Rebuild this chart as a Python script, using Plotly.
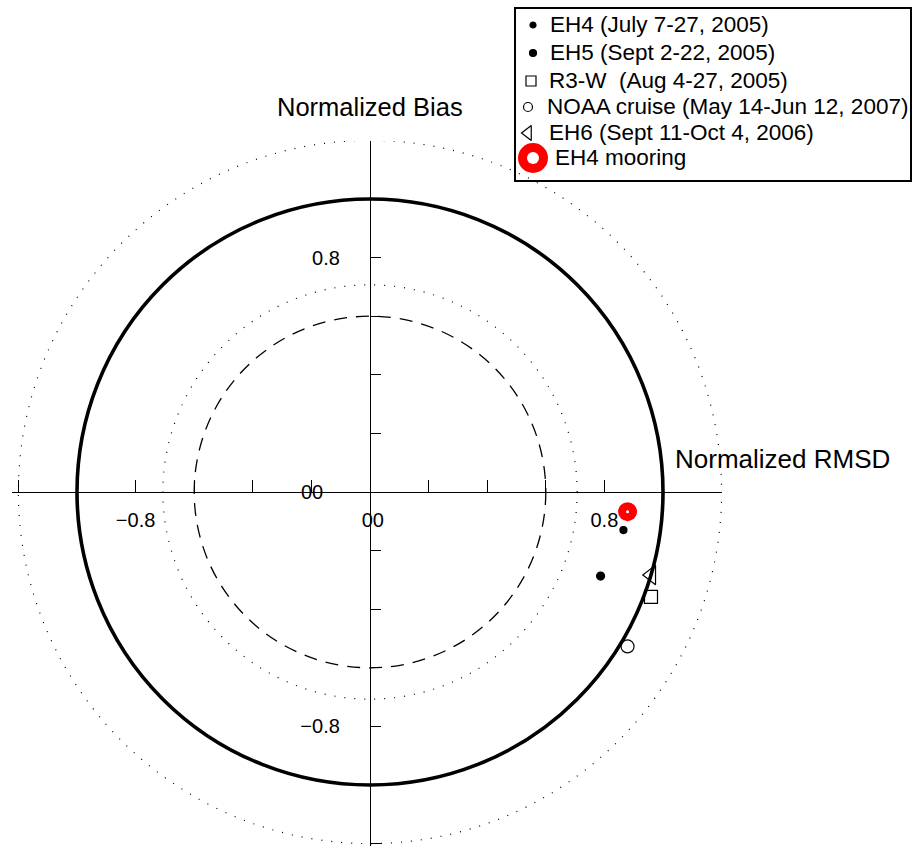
import plotly.graph_objects as go

# ---------------- data ----------------
series_names = [
    "EH4 (July 7-27, 2005)",
    "EH5 (Sept 2-22, 2005)",
    "R3-W  (Aug 4-27, 2005)",
    "NOAA cruise (May 14-Jun 12, 2007)",
    "EH6 (Sept 11-Oct 4, 2006)",
    "EH4 mooring",
]
norm_rmsd = [0.865, 0.787, 0.959, 0.879, 0.960, 0.879]
norm_bias = [-0.130, -0.287, -0.358, -0.527, -0.283, -0.067]

solid_radii = [1.0]
dashed_radii = [0.6]
dotted_radii = [0.707, 1.2]

tick_values = [-1.2, -1.0, -0.8, -0.6, -0.4, -0.2, 0.0, 0.2, 0.4, 0.6, 0.8, 1.0, 1.2]
x_tick_text = ["", "", "\u22120.8", "", "", "", "\u00a000", "", "", "", "0.8", "", ""]
y_tick_text = ["", "", "\u22120.8", "", "", "", "00\u00a0\u00a0\u00a0", "", "", "", "0.8", "", ""]

x_title = "Normalized RMSD"
y_title = "Normalized Bias"

# ---------------- styles ----------------
W, H = 914, 846
CX, CY, S = 370, 492, 293.0          # pixel centre and pixels per unit
FONT = "Liberation Sans"

symbols = ["circle", "circle", "square-open", "circle-open", "triangle-left-open"]
plot_sizes = [7, 8, 13, 13, 17]
legend_sizes = [6, 7, 10, 9, 13]

# legend box (pixel geometry of the box)
LB_X0, LB_X1, LB_Y0, LB_Y1 = 516, 910, 9, 180
legend_marker_x = [17, 17, 15, 12, 12, 17]
legend_text_x = [32, 32, 31, 29, 31, 37]
legend_row_y = [16, 44, 72, 98, 124, 149]

fig = go.Figure()

# reference circles
for r in dotted_radii:
    fig.add_shape(type="circle", xref="x", yref="y", x0=-r, y0=-r, x1=r, y1=r,
                  line=dict(color="black", width=1.2, dash="1px,9px"), layer="below")
for r in dashed_radii:
    fig.add_shape(type="circle", xref="x", yref="y", x0=-r, y0=-r, x1=r, y1=r,
                  line=dict(color="black", width=1.3, dash="13px,9px"), layer="below")
for r in solid_radii:
    fig.add_shape(type="circle", xref="x", yref="y", x0=-r, y0=-r, x1=r, y1=r,
                  line=dict(color="black", width=3.6), layer="below")

# data points (black symbols)
for i in range(5):
    fig.add_trace(go.Scatter(
        x=[norm_rmsd[i]], y=[norm_bias[i]], mode="markers", name=series_names[i],
        showlegend=False, cliponaxis=False,
        marker=dict(symbol=symbols[i], size=plot_sizes[i], color="black",
                    line=dict(color="black", width=1.2)),
        xaxis="x", yaxis="y"))

# mooring point: red disc with white centre
fig.add_trace(go.Scatter(x=[norm_rmsd[5]], y=[norm_bias[5]], mode="markers",
                         name=series_names[5], showlegend=False, cliponaxis=False,
                         marker=dict(symbol="circle", size=19, color="#ff0000", line=dict(width=0))))
fig.add_trace(go.Scatter(x=[norm_rmsd[5]], y=[norm_bias[5]], mode="markers",
                         showlegend=False, cliponaxis=False, hoverinfo="skip",
                         marker=dict(symbol="circle", size=3, color="white", line=dict(width=0))))

# ---------------- custom legend ----------------
for i in range(5):
    fig.add_trace(go.Scatter(
        x=[legend_marker_x[i]], y=[legend_row_y[i]], mode="markers", showlegend=False,
        cliponaxis=False, hoverinfo="skip", xaxis="x2", yaxis="y2",
        marker=dict(symbol=symbols[i], size=legend_sizes[i], color="black",
                    line=dict(color="black", width=1.2))))
fig.add_trace(go.Scatter(x=[legend_marker_x[5]], y=[legend_row_y[5]], mode="markers",
                         showlegend=False, cliponaxis=False, hoverinfo="skip",
                         xaxis="x2", yaxis="y2",
                         marker=dict(symbol="circle", size=30, color="#ff0000", line=dict(width=0))))
fig.add_trace(go.Scatter(x=[legend_marker_x[5]], y=[legend_row_y[5]], mode="markers",
                         showlegend=False, cliponaxis=False, hoverinfo="skip",
                         xaxis="x2", yaxis="y2",
                         marker=dict(symbol="circle", size=12, color="white", line=dict(width=0))))
for i, name in enumerate(series_names):
    fig.add_annotation(x=legend_text_x[i], y=legend_row_y[i], xref="x2", yref="y2",
                       text=name, showarrow=False, xanchor="left", yanchor="middle",
                       font=dict(family=FONT, size=22.5, color="black"))

# axis titles
fig.add_annotation(x=CX / W, y=(H - 107) / H, xref="paper", yref="paper", text=y_title,
                   showarrow=False, xanchor="center", yanchor="middle",
                   font=dict(family=FONT, size=25.5, color="black"))
fig.add_annotation(x=673 / W, y=(H - 459) / H, xref="paper", yref="paper", text=x_title,
                   showarrow=False, xanchor="left", yanchor="middle",
                   font=dict(family=FONT, size=26, color="black"))

axis_common = dict(showgrid=False, zeroline=False, showline=True, linecolor="black",
                   linewidth=1.3, ticks="inside", tickcolor="black", tickwidth=1.3,
                   tickvals=tick_values, tickfont=dict(family=FONT, size=20, color="black"),
                   fixedrange=True)

fig.update_layout(
    width=W, height=H,
    margin=dict(l=0, r=0, t=0, b=0),
    paper_bgcolor="white", plot_bgcolor="rgba(0,0,0,0)",
    showlegend=False,
    xaxis=dict(domain=[12 / W, 722 / W], range=[(12 - CX) / S, (722 - CX) / S],
               anchor="free", position=(H - CY) / H, ticklen=12,
               ticktext=x_tick_text, ticklabelstandoff=10, **axis_common),
    yaxis=dict(domain=[0, (H - 141) / H], range=[(CY - H) / S, (CY - 141) / S],
               anchor="free", position=CX / W, ticklen=10,
               ticktext=y_tick_text, ticklabelstandoff=26, **axis_common),
    xaxis2=dict(domain=[LB_X0 / W, LB_X1 / W], range=[0, LB_X1 - LB_X0], anchor="y2",
                showgrid=False, zeroline=False, showticklabels=False, ticks="",
                showline=True, mirror=True, linecolor="black", linewidth=2, fixedrange=True),
    yaxis2=dict(domain=[(H - LB_Y1) / H, (H - LB_Y0) / H], range=[LB_Y1 - LB_Y0, 0], anchor="x2",
                showgrid=False, zeroline=False, showticklabels=False, ticks="",
                showline=True, mirror=True, linecolor="black", linewidth=2, fixedrange=True),
)

fig.write_html(
    "out.html",
    config={"displayModeBar": False},
    post_script="document.body.style.margin='0px';document.body.style.overflow='hidden';",
)
